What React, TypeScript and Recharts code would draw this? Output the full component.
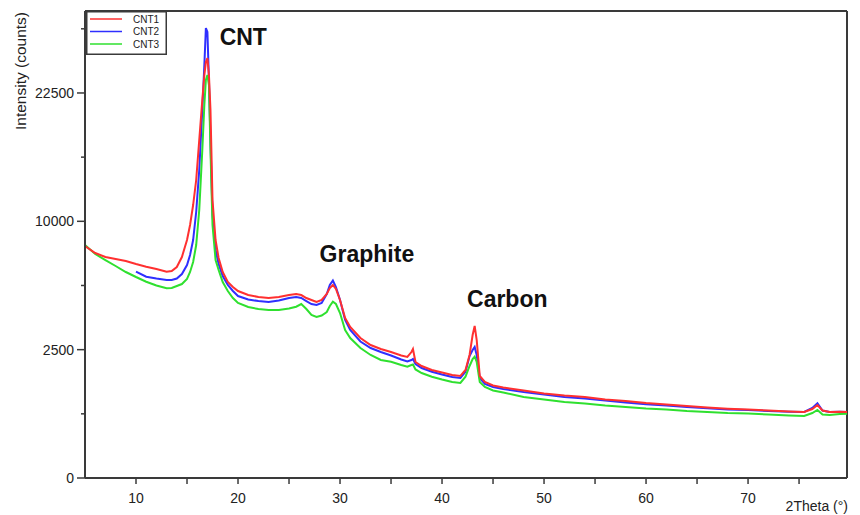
import React from "react";
import {
  LineChart,
  Line,
  XAxis,
  YAxis,
  ReferenceLine,
  ReferenceDot,
  Legend
} from "recharts";

// 2Theta positions (degrees)
const theta = [
  5, 6, 7, 8, 9, 10, 11, 12, 13, 13.5, 14, 14.5, 15, 15.3, 15.6, 15.9, 16.2, 16.5, 16.7, 16.85,
  17.0, 17.15, 17.3, 17.5, 17.8, 18.1, 18.5, 19, 19.5, 20, 21, 22, 23, 24, 25, 25.7, 26.2, 26.7,
  27.2, 27.7, 28.2, 28.7, 29.0, 29.3, 29.6, 30.0, 30.5, 31, 32, 33, 34, 35, 36, 36.6, 37.0, 37.15,
  37.4, 38, 39, 40, 41, 41.8, 42.3, 42.7, 43.0, 43.2, 43.4, 43.7, 44.2, 45, 46, 48, 50, 52, 54, 56,
  58, 60, 62, 64, 66, 68, 70, 72, 74, 75.5, 76.3, 76.8, 77.3, 78, 79, 80
];

// intensity (counts)
const cnt1 = [
  8168, 7683, 7412, 7278, 7146, 6950, 6776, 6629, 6459, 6503, 6756, 7412, 8596, 9714, 11310, 13477,
  17337, 21684, 24647, 26262, 26770, 24647, 20551, 11728, 8596, 7345, 6440, 5830, 5536, 5307, 5082,
  4972, 4917, 4972, 5082, 5138, 5082, 4917, 4808, 4701, 4808, 5138, 5478, 5653, 5421, 4808, 3885,
  3460, 2974, 2684, 2525, 2409, 2277, 2222, 2409, 2525, 2042, 1904, 1770, 1689, 1610, 1579, 1770,
  2296, 3103, 3506, 2890, 1579, 1399, 1298, 1243, 1162, 1084, 1033, 996, 935, 900, 854, 820, 787,
  754, 729, 712, 691, 671, 661, 722, 809, 691, 661, 667, 661
];

const cnt2 = [
  null, null, null, null, null, 6459, 6149, 6040, 5949, 5949, 6040, 6315, 6885, 7547, 8596, 10738,
  14396, 20551, 25885, 30731, 30187, 24039, 17337, 10497, 7889, 6950, 6192, 5653, 5307, 5027, 4835,
  4754, 4701, 4781, 4917, 4972, 4917, 4754, 4595, 4542, 4648, 5138, 5653, 5919, 5536, 4808, 3788,
  3324, 2828, 2565, 2409, 2277, 2131, 2060, 2113, 2149, 1972, 1836, 1715, 1626, 1548, 1518, 1715,
  2259, 2486, 2604, 2296, 1518, 1341, 1257, 1202, 1122, 1058, 996, 959, 911, 865, 824, 798, 765,
  737, 712, 702, 681, 667, 661, 744, 847, 691, 661, 667, 661
];

const cnt3 = [
  8239, 7614, 7212, 6821, 6440, 6131, 5848, 5624, 5461, 5478, 5594, 5711, 6010, 6440, 7080, 8239,
  10900, 16327, 21114, 24039, 24647, 23439, 16327, 9714, 7212, 6566, 5830, 5307, 4917, 4648, 4437,
  4334, 4283, 4283, 4360, 4453, 4595, 4334, 4032, 3934, 4007, 4182, 4490, 4717, 4595, 4132, 3324,
  2974, 2565, 2296, 2113, 2053, 1938, 1880, 1938, 1955, 1787, 1673, 1557, 1472, 1399, 1370, 1557,
  1904, 2149, 2233, 2042, 1399, 1257, 1162, 1109, 996, 935, 877, 842, 798, 765, 733, 712, 681, 661,
  641, 631, 612, 593, 583, 641, 702, 612, 602, 622, 631
];

const seriesNames = ["CNT1", "CNT2", "CNT3"];
const seriesColors = ["#ff3030", "#2f2fff", "#2fe02f"];

const xTicks = [10, 15, 20, 25, 30, 35, 40, 45, 50, 55, 60, 65, 70, 75];
const xLabels = [10, 20, 30, 40, 50, 60, 70];
const yTicks = [0, 625, 2500, 5625, 10000, 15625, 22500, 30625];
const yLabels = [0, 2500, 10000, 22500];

const annotTexts = ["CNT", "Graphite", "Carbon"];
const annotTheta = [18.2, 28.0, 42.45];
const annotCounts = [28450, 7100, 4420];

const X_MIN = 5;
const X_MAX = 79.7;
const Y_MAX = 33100;

const data = theta.map((t, i) => ({
  theta: t,
  CNT1: cnt1[i],
  CNT2: cnt2[i],
  CNT3: cnt3[i]
}));

const font = "'Liberation Sans', Arial, sans-serif";
const axisColor = "#3a3a3a";

const XTick = (props: any) => {
  const { x, y, payload } = props;
  const major = xLabels.includes(payload.value);
  return (
    <g>
      <line x1={x} y1={y} x2={x} y2={y + 6} stroke={axisColor} strokeWidth={1.5} />
      {major && (
        <text x={x} y={y + 25} textAnchor="middle" fontSize={14} fill="#222" fontFamily={font}>
          {payload.value}
        </text>
      )}
    </g>
  );
};

const YTick = (props: any) => {
  const { x, y, payload } = props;
  const major = yLabels.includes(payload.value);
  return (
    <g>
      <line x1={x - (major ? 8 : 4)} y1={y} x2={x} y2={y} stroke={axisColor} strokeWidth={1.5} />
      {major && (
        <text x={x - 11} y={y + 5} textAnchor="end" fontSize={14} fill="#222" fontFamily={font}>
          {payload.value}
        </text>
      )}
    </g>
  );
};

const YLabel = (props: any) => {
  const { viewBox } = props;
  const cx = viewBox.x + 26;
  const cy = viewBox.y + 60;
  return (
    <text
      x={cx}
      y={cy}
      transform={`rotate(-90, ${cx}, ${cy})`}
      textAnchor="middle"
      fontSize={15.5}
      fill="#222"
      fontFamily={font}
    >
      Intensity (counts)
    </text>
  );
};

const XLabel = (props: any) => {
  const { viewBox } = props;
  return (
    <text
      x={viewBox.x + viewBox.width + 1}
      y={viewBox.y + 33}
      textAnchor="end"
      fontSize={14}
      fill="#222"
      fontFamily={font}
    >
      2Theta (°)
    </text>
  );
};

const Annot = (props: any) => {
  const { viewBox, text } = props;
  return (
    <text x={viewBox.x} y={viewBox.y} fontSize={23} fontWeight="bold" fill="#111" fontFamily={font}>
      {text}
    </text>
  );
};

const LegendBox = () => (
  <svg width={81} height={44} style={{ display: "block" }}>
    <rect x={0.75} y={0.75} width={79.5} height={42.5} fill="#fff" stroke={axisColor} strokeWidth={1.5} />
    {seriesNames.map((name, i) => (
      <g key={name}>
        <line x1={4} x2={36} y1={8 + i * 12.5} y2={8 + i * 12.5} stroke={seriesColors[i]} strokeWidth={1.5} />
        <text x={47} y={11.5 + i * 12.5} fontSize={10} fill="#222" fontFamily={font}>
          {name}
        </text>
      </g>
    ))}
  </svg>
);

export default function App() {
  return (
    <div style={{ position: "absolute", left: 0, top: 0, width: 860, height: 515, background: "#fff" }}>
      <LineChart width={860} height={515} data={data} margin={{ top: 11, right: 13, bottom: 0, left: 0 }}>
        <XAxis
          dataKey="theta"
          type="number"
          domain={[X_MIN, X_MAX]}
          ticks={xTicks}
          interval={0}
          height={37}
          tickSize={0}
          tickMargin={0}
          tickLine={false}
          tick={<XTick />}
          axisLine={{ stroke: axisColor, strokeWidth: 2 }}
          label={<XLabel />}
          allowDataOverflow
        />
        <YAxis
          type="number"
          scale="sqrt"
          domain={[0, Y_MAX]}
          ticks={yTicks}
          interval={0}
          width={85}
          tickSize={0}
          tickMargin={0}
          tickLine={false}
          tick={<YTick />}
          axisLine={{ stroke: axisColor, strokeWidth: 2 }}
          label={<YLabel />}
          allowDataOverflow
        />
        <ReferenceLine y={Y_MAX} stroke={axisColor} strokeWidth={2} />
        <ReferenceLine x={X_MAX} stroke={axisColor} strokeWidth={2} />
        <Line type="linear" dataKey="CNT2" stroke={seriesColors[1]} strokeWidth={2} dot={false} isAnimationActive={false} />
        <Line type="linear" dataKey="CNT3" stroke={seriesColors[2]} strokeWidth={2} dot={false} isAnimationActive={false} />
        <Line type="linear" dataKey="CNT1" stroke={seriesColors[0]} strokeWidth={2} dot={false} isAnimationActive={false} />
        {annotTexts.map((t, i) => (
          <ReferenceDot
            key={t}
            x={annotTheta[i]}
            y={annotCounts[i]}
            r={0}
            fill="none"
            stroke="none"
            label={<Annot text={t} />}
          />
        ))}
        <Legend
          layout="vertical"
          align="center"
          verticalAlign="middle"
          content={<LegendBox />}
          wrapperStyle={{ left: 86, top: 11, width: 81, height: 44 }}
        />
      </LineChart>
    </div>
  );
}
